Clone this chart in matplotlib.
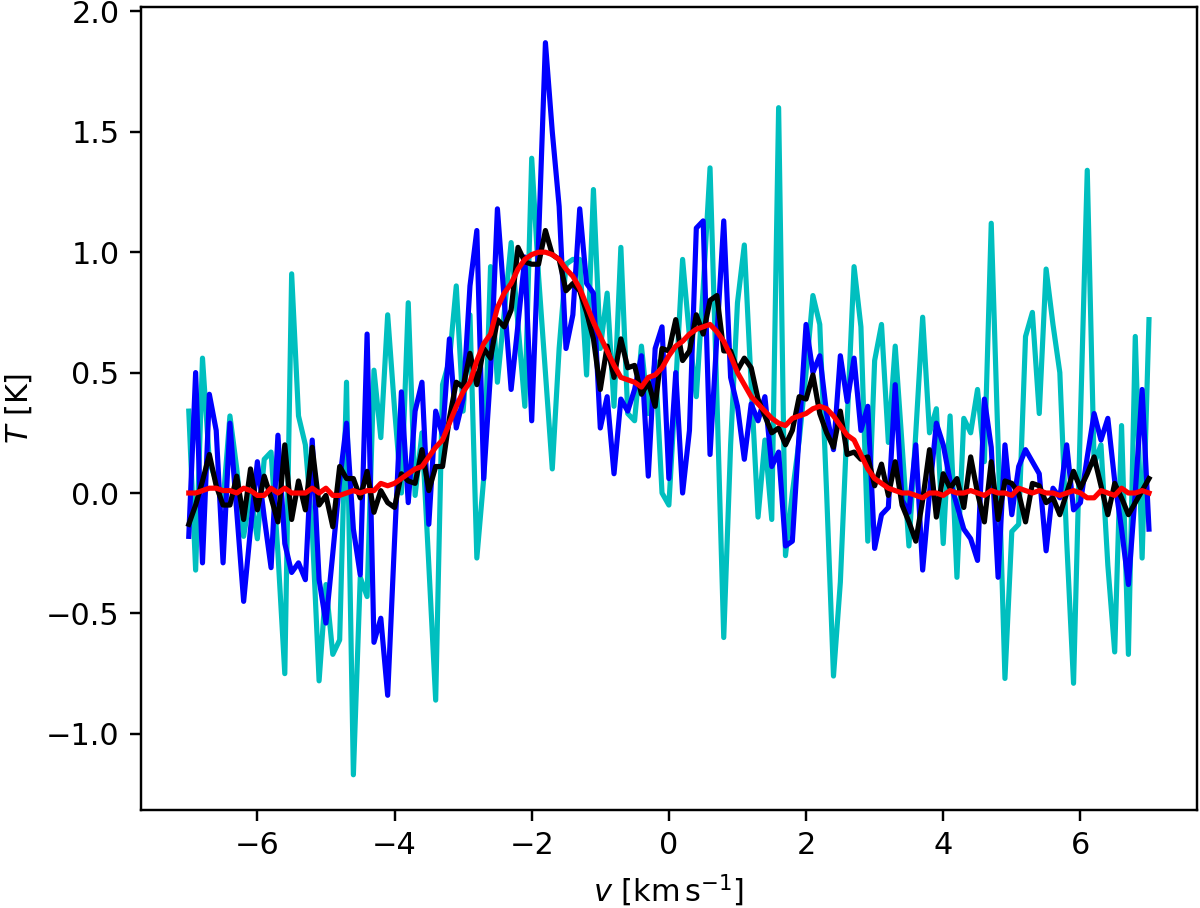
import numpy as np
import matplotlib
matplotlib.use('Agg')
import matplotlib.pyplot as plt

# velocity axis: 141 channels, 0.1 km/s apart
v = np.linspace(-7, 7, 141)

# cyan spectrum (noisiest)
t_cyan = [
    0.34, -0.32, 0.56, 0.13, 0.05, -0.04, 0.32, 0.10, -0.18, 0.00,
    -0.19, 0.14, 0.17, -0.25, -0.75, 0.91, 0.32, 0.20, -0.15, -0.78,
    -0.38, -0.67, -0.61, 0.46, -1.17, -0.35, -0.43, 0.51, 0.23, 0.74,
    0.35, 0.00, 0.79, -0.01, 0.25, -0.30, -0.86, 0.45, 0.55, 0.86,
    0.34, 0.74, -0.27, 0.06, 0.94, 0.46, 0.75, 1.04, 0.70, 0.36,
    1.39, 0.90, 0.50, 0.10, 0.60, 0.95, 0.97, 0.97, 0.49, 1.26,
    0.60, 0.83, 0.36, 1.02, 0.33, 0.30, 0.61, 0.33, 0.55, 0.00,
    -0.05, 0.45, 0.97, 0.65, 0.40, 0.85, 1.35, 0.40, -0.60, 0.20,
    0.79, 1.03, 0.45, -0.10, 0.22, -0.11, 1.60, -0.26, 0.00, 0.22,
    0.50, 0.82, 0.70, 0.00, -0.76, -0.37, 0.30, 0.94, 0.69, -0.20,
    0.55, 0.70, 0.21, 0.61, 0.20, -0.22, 0.25, 0.73, 0.25, 0.35,
    -0.21, 0.32, -0.35, 0.31, 0.25, 0.43, 0.13, 1.12, 0.20, -0.77,
    -0.16, -0.13, 0.65, 0.75, 0.33, 0.93, 0.70, 0.50, -0.20, -0.79,
    0.30, 1.34, 0.12, 0.20, -0.30, -0.66, 0.28, -0.67, 0.65, -0.27,
    0.72,
]

# blue spectrum
t_blue = [
    -0.18, 0.50, -0.29, 0.41, 0.26, -0.29, 0.29, -0.08, -0.45, -0.15,
    0.13, -0.10, -0.31, 0.24, -0.21, -0.33, -0.29, -0.36, 0.22, -0.36,
    -0.54, -0.25, 0.05, 0.29, -0.15, -0.34, 0.66, -0.62, -0.52, -0.84,
    -0.20, 0.42, -0.04, 0.34, 0.46, -0.13, 0.34, 0.24, 0.64, 0.27,
    0.39, 0.86, 1.09, 0.06, 0.50, 1.18, 0.80, 0.43, 0.70, 0.98,
    0.30, 1.05, 1.87, 1.50, 1.19, 0.60, 0.74, 1.18, 0.87, 0.83,
    0.27, 0.40, 0.08, 0.39, 0.34, 0.43, 0.57, 0.07, 0.60, 0.69,
    0.06, 0.50, 0.00, 0.26, 1.10, 1.13, 0.16, 0.65, 1.13, 0.48,
    0.36, 0.14, 0.37, 0.30, 0.40, 0.11, 0.17, -0.22, -0.20, 0.25,
    0.70, 0.50, 0.57, 0.33, 0.18, 0.57, 0.38, 0.56, 0.26, 0.36,
    -0.23, -0.09, -0.06, 0.45, -0.03, -0.08, 0.20, -0.32, 0.00, 0.29,
    0.20, 0.05, -0.05, -0.15, -0.19, -0.28, 0.39, 0.19, -0.35, 0.20,
    -0.09, 0.11, 0.18, 0.13, 0.08, -0.24, 0.02, -0.02, 0.20, -0.07,
    -0.04, 0.15, 0.33, 0.22, 0.31, 0.05, -0.15, -0.38, 0.00, 0.43,
    -0.15,
]

# black spectrum
t_black = [
    -0.13, -0.05, 0.05, 0.16, 0.03, -0.05, -0.05, 0.07, -0.11, 0.10,
    -0.07, 0.07, -0.02, -0.12, 0.20, -0.11, 0.05, -0.07, 0.19, -0.05,
    -0.01, -0.14, 0.11, 0.06, 0.06, -0.02, 0.09, -0.08, 0.01, -0.04,
    -0.06, 0.08, 0.05, 0.04, 0.18, 0.01, 0.11, 0.11, 0.31, 0.46,
    0.44, 0.58, 0.45, 0.60, 0.56, 0.72, 0.69, 0.76, 1.02, 0.96,
    0.95, 0.95, 1.09, 0.99, 0.97, 0.84, 0.87, 0.84, 0.75, 0.64,
    0.43, 0.61, 0.48, 0.64, 0.52, 0.53, 0.41, 0.46, 0.36, 0.60,
    0.59, 0.72, 0.55, 0.59, 0.74, 0.66, 0.80, 0.82, 0.59, 0.59,
    0.51, 0.56, 0.52, 0.39, 0.32, 0.25, 0.27, 0.20, 0.26, 0.40,
    0.39, 0.49, 0.33, 0.25, 0.19, 0.34, 0.16, 0.17, 0.14, 0.15,
    0.03, 0.12, -0.01, 0.13, -0.05, -0.12, -0.20, -0.03, 0.18, -0.10,
    0.08, 0.02, 0.06, -0.06, 0.15, 0.00, -0.12, 0.13, -0.11, 0.05,
    0.04, 0.00, -0.12, 0.04, 0.03, -0.04, -0.02, -0.09, 0.00, 0.09,
    0.02, 0.08, 0.15, 0.03, -0.09, 0.04, -0.02, -0.09, -0.04, 0.01,
    0.06,
]

# red (smooth) profile
t_red = [
    0.00, 0.00, 0.01, 0.02, 0.02, 0.01, 0.01, 0.00, 0.02, 0.01,
    -0.01, -0.01, 0.02, 0.00, 0.02, 0.00, 0.00, 0.00, 0.02, 0.00,
    0.02, -0.01, -0.01, 0.00, 0.01, 0.00, 0.01, 0.01, 0.04, 0.03,
    0.04, 0.06, 0.08, 0.10, 0.11, 0.15, 0.19, 0.22, 0.29, 0.36,
    0.42, 0.46, 0.55, 0.62, 0.66, 0.77, 0.83, 0.87, 0.93, 0.97,
    0.99, 1.00, 1.00, 0.99, 0.97, 0.93, 0.90, 0.85, 0.78, 0.71,
    0.65, 0.59, 0.53, 0.48, 0.47, 0.46, 0.44, 0.48, 0.49, 0.52,
    0.57, 0.61, 0.63, 0.66, 0.68, 0.69, 0.70, 0.67, 0.63, 0.57,
    0.50, 0.45, 0.40, 0.37, 0.34, 0.31, 0.29, 0.28, 0.31, 0.32,
    0.33, 0.35, 0.36, 0.35, 0.32, 0.28, 0.24, 0.22, 0.16, 0.10,
    0.06, 0.04, 0.02, 0.01, 0.00, 0.00, -0.01, -0.02, 0.00, 0.00,
    -0.01, 0.01, 0.00, 0.00, 0.01, 0.00, -0.01, 0.01, 0.00, 0.00,
    -0.01, 0.02, 0.01, 0.00, 0.01, 0.00, 0.00, -0.01, 0.00, 0.01,
    0.00, -0.02, -0.02, 0.01, 0.00, -0.01, 0.02, 0.00, 0.00, 0.01,
    0.00,
]

# the reference looks like a small figure saved at a high dpi
dpi = 219
fig, ax = plt.subplots(figsize=(1200 / dpi, 908 / dpi), dpi=dpi)
fig.subplots_adjust(left=0.1173, right=0.9975, bottom=0.108, top=0.992)

ax.plot(v, t_cyan, color='c', lw=1.7)
ax.plot(v, t_blue, color='b', lw=1.7)
ax.plot(v, t_black, color='k', lw=1.7)
ax.plot(v, t_red, color='r', lw=1.7)

ax.set_xlim(-7.7, 7.7)
ax.set_ylim(-1.316, 2.017)
ax.set_xlabel(r'$v$ [km$\,$s$^{-1}$]')
ax.set_ylabel(r'$T$ [K]')

fig.savefig('out.png', dpi=dpi)
